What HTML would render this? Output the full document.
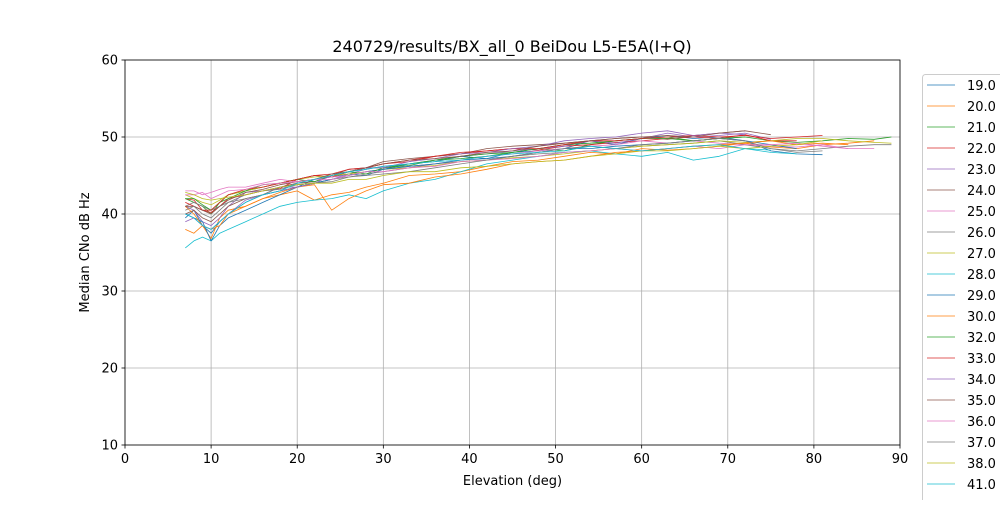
<!DOCTYPE html>
<html><head><meta charset="utf-8"><style>
body{margin:0;background:#fff;font-family:"Liberation Sans","DejaVu Sans",sans-serif}
</style></head><body>
<svg id="c" width="1000" height="500" xmlns="http://www.w3.org/2000/svg" style="font-family:'DejaVu Sans','Liberation Sans',sans-serif">
<rect width="1000" height="500" fill="#fff"/>
<text x="512" y="52" text-anchor="middle" font-size="16">240729/results/BX_all_0 BeiDou L5-E5A(I+Q)</text>
<g id="grid"></g><g id="lines"></g><g id="axes"></g><g id="legend"></g>
</svg>
<script>
const elev=[7,8,9,10,11,12,14,16,18,20,22,24,26,28,30,33,36,39,42,45,48,51,54,57,60,63,66,69,72,75,78,81,84,87,89];
const seriesNames=["19.0","20.0","21.0","22.0","23.0","24.0","25.0","26.0","27.0","28.0","29.0","30.0","32.0","33.0","34.0","35.0","36.0","37.0","38.0","41.0","42.0"];
const s19=[39.5,40.5,38.5,37.5,39,40,41.5,42.5,43,43.5,44.5,44.8,45.2,45,45.8,46.5,46.8,47.5,47.2,48,48.2,48.5,49.5,49,49.8,50.2,49.8,50,49.5,48.2,47.8,47.7];
const s20=[38,37.5,38.5,36.8,39.5,40.5,41,42,42.5,43,41.8,42.5,42.8,43.5,44,45,45.2,45.5,46.2,46.8,47,47.5,48,47.8,48.5,48.3,48.5,48.8,49.2,48.7,48.5,49,49.2,49.5];
const s21=[42,41.5,41,40,41.5,42.5,43,43.5,44,44.5,45,44.8,45.5,46,46,46.3,47,47.2,47.5,48,48.5,48.2,49,49.5,49.8,50,49.5,49.8,50,49.5,49.3,49.5,49.8,49.7,50];
const s22=[42,41.8,40.5,40.2,41,42,42.5,43,43.3,44.5,45,44.8,45.5,46,46.5,46.8,47.5,47.8,48.2,48.5,48.3,48.8,49,49.3,49.5,49.8,50,49.8,50.3,49.5,49.5];
const s23=[41,40.5,39,38.5,39.5,41,42.8,43,43.5,43.5,44,44.5,45.2,45.8,46.2,46.5,47,47.5,47.8,48.2,48.5,48.8,49.5,49.2,49.8,50.5,50,50.2,50.5,49.7];
const s24=[40,40.5,39.5,39,40,41,42,42.5,43.5,44,44.2,45,45.8,46,46.8,47.2,47.5,47.8,48.5,48.8,49,49.2,49.5,49.8,50,49.7,50.2,50.5,50.8];
const s25=[43,43,42.5,42.8,43.2,43.5,43.5,44,44.5,44.2,44.5,44.8,45,45.5,45.8,46.2,46.5,47,47.5,47.8,48.2,48.5,48.8,49,49.5,49.2,49.5,49.2,49,48.8,48.7,49,48.5,48.5];
const s26=[41,41.5,41,40.5,41,41.5,42.5,43,43.2,43.8,44,44.5,44.8,45.2,45.5,46,46.5,46.8,47,47.5,47.8,48,48.2,48.5,48.8,49,49.2,49.5,49,48.5,48.2,48.5,48.8,49,49];
const s27=[42.5,42,41.5,41.2,41.8,42.5,43,43.5,44,44.5,44.8,45,45.2,45.5,45.8,46,46.3,46.8,47,47.3,47.5,47.8,48.2,48.5,48.8,49,49.2,49.5,49.3,49.5,49.8,49.8,49.5,49.3,49.2];
const s28=[35.6,36.5,37,36.5,37.5,38,39,40,41,41.5,41.8,42,42.5,42,43,44,44.5,45.5,46.5,47,47.5,48,48.2,47.8,47.5,48,47,47.5,48.5,48,47.8];
const s29=[40,39.5,39,36.5,38.5,39.5,40.5,41.5,42.5,43.5,44,44.5,45,45.5,45.8,46.2,46.5,47,47.2,47.5,48,48.5,48.5,48.8,49,49.2,49.5,49.8,49.5,49,48.5];
const s30=[41,40,38.5,38,38.5,40,41,42,42.8,43.5,43.8,40.5,42,43,43.8,44,44.8,45.2,45.8,46.5,46.8,47,47.5,48,48.2,48.5,48.8,49,49.2,49.5,49,49.2,49];
const s32=[42,42,41.2,40.5,41.5,42,43,43.8,44,44.5,44.2,45,45.5,45.2,46,46.5,47,47.5,47.8,48,48.5,49,49.2,49.5,49.8,49.8,49.5,49.8,50];
const s33=[41.5,41,40.5,40.5,41.5,42.5,43.2,43.5,44,44.5,45,45.2,45.8,46,46.5,47,47.5,48,48.2,48.5,48.5,49,49.5,49.5,49.8,50,50.2,50,50.2,49.8,50,50.2];
const s34=[39,39.5,38.5,38,39,40,41.8,42.5,43,43.5,44,45,45.5,46,46,46.8,47.2,47.8,48,48.5,48.8,49.5,49.8,50,50.5,50.8,50.2,50.5,50.3];
const s35=[41,41,40.5,40,41,41.8,42.8,43.2,43.8,44.2,44.5,45.2,45.5,46,46.5,47,47.2,47.5,48,48.2,48.8,49.2,49.5,49.8,50,50.2,50,50.5,50.8,50.3];
const s36=[42.5,42.5,42.8,42,42.5,43,43.2,43.8,44,44.2,44.5,44.5,45,45.5,45.5,46,46.2,46.8,47,47.2,47.5,48,48.2,48.5,48.2,48.5,48.8,48.5,49,49,49.2,48.8,48.5];
const s37=[40.5,41,40,39.5,40.5,41.5,42,42.5,43.5,43.8,44,44.2,44.8,45,45.2,45.5,46,46.5,47,47.5,48,48.5,48.8,48.5,49,49.2,49.5,49.8,49.5,48.5,48,48.2];
const s38=[42.8,42.5,42,41.8,42,42.2,42.5,43,43.5,43.8,44,44,44.5,44.5,45,45.5,45.5,46,46.2,46.5,46.8,47,47.5,47.8,48.2,48.2,48.5,48.8,48.5,48.8,49,49.5];
const s41=[40,39.5,38.5,38,39,40,41.5,42.5,43,44,44.5,45,45.5,45.8,46.2,46.5,46.8,47,47.5,47.8,48,48.2,48.8,48.5,48.2,48.5,48.8,49,48.5,48.3];
const s42=[];
const allSeries=[s19,s20,s21,s22,s23,s24,s25,s26,s27,s28,s29,s30,s32,s33,s34,s35,s36,s37,s38,s41,s42];
const xTicks=[0,10,20,30,40,50,60,70,80,90];
const yTicks=[10,20,30,40,50,60];
const colors=["#1f77b4","#ff7f0e","#2ca02c","#d62728","#9467bd","#8c564b","#e377c2","#7f7f7f","#bcbd22","#17becf"];
const L=125,R=900,T=60,B=445;
const xs=v=>L+(v-0)/(90-0)*(R-L);
const ys=v=>B-(v-10)/(60-10)*(B-T);
const NS="http://www.w3.org/2000/svg";
function mk(tag,attrs,parent){const e=document.createElementNS(NS,tag);for(const k in attrs)e.setAttribute(k,attrs[k]);parent.appendChild(e);return e;}
const grid=document.getElementById('grid'),axes=document.getElementById('axes'),lines=document.getElementById('lines'),legend=document.getElementById('legend');
xTicks.forEach(t=>{
 const g=mk('line',{x1:xs(t),x2:xs(t),y1:T,y2:B,stroke:'#b0b0b0','stroke-width':0.8},grid);
 
 
 mk('line',{x1:xs(t),x2:xs(t),y1:B,y2:B+3.5,stroke:'#000','stroke-width':0.8},axes);
 const tx=mk('text',{x:xs(t),y:B+18,'text-anchor':'middle','font-size':13},axes);tx.textContent=t;
 
 
});
yTicks.forEach(t=>{
 const g=mk('line',{x1:L,x2:R,y1:ys(t),y2:ys(t),stroke:'#b0b0b0','stroke-width':0.8},grid);
 
 
 mk('line',{x1:L-3.5,x2:L,y1:ys(t),y2:ys(t),stroke:'#000','stroke-width':0.8},axes);
 const tx=mk('text',{x:L-7,y:ys(t)+4.5,'text-anchor':'end','font-size':13},axes);tx.textContent=t;
 
 
});
const fr=mk('rect',{x:L,y:T,width:R-L,height:B-T,fill:'none',stroke:'#000','stroke-width':0.8},axes);


const xl=mk('text',{x:(L+R)/2,y:485,'text-anchor':'middle','font-size':13},axes);xl.textContent='Elevation (deg)';


const yl=mk('text',{x:89,y:(T+B)/2,'text-anchor':'middle','font-size':13,transform:`rotate(-90 89 ${(T+B)/2})`},axes);yl.textContent='Median CNo dB Hz';


allSeries.forEach((s,i)=>{
 if(!s.length)return;
 const d=s.map((v,j)=>(j?'L':'M')+xs(elev[j]).toFixed(1)+' '+ys(v).toFixed(1)).join(' ');
 const p=mk('path',{d:d,fill:'none',stroke:colors[i%10],'stroke-width':0.8,'stroke-linejoin':'round'},lines);
 
 
});
const lb=mk('rect',{x:922.5,y:74.5,width:100,height:450,rx:3,fill:'#fff',stroke:'#ccc','stroke-width':1},legend);


seriesNames.forEach((n,i)=>{
 const y=85+i*21;
 const ln=mk('line',{x1:927,x2:955,y1:y,y2:y,stroke:colors[i%10],'stroke-width':0.8},legend);
 
 
 const t=mk('text',{x:967,y:y+5,'font-size':13},legend);t.textContent=n;
 
 
});
</script>
</body></html>
